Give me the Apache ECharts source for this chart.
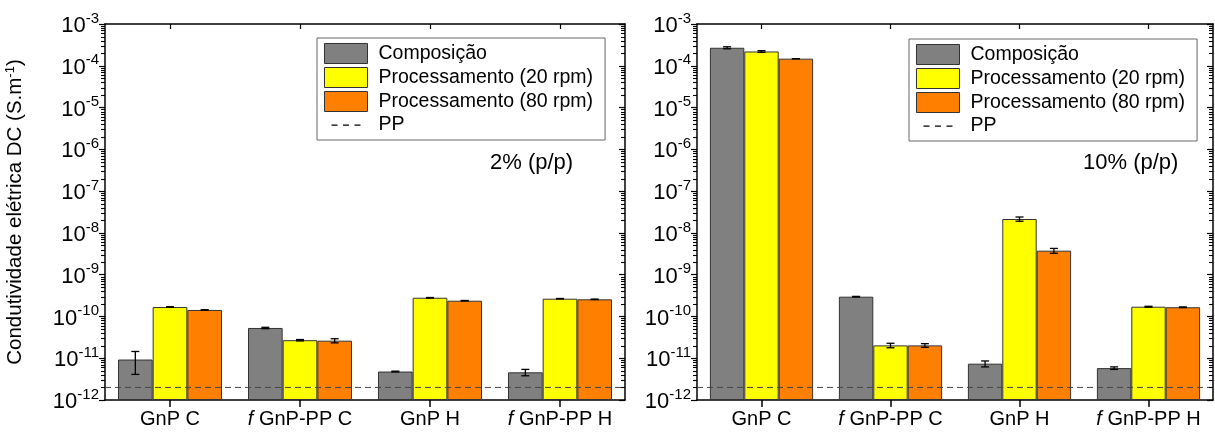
<!DOCTYPE html>
<html><head><meta charset="utf-8">
<script src="https://cdn.jsdelivr.net/npm/echarts@6/dist/echarts.min.js"></script>
<style>html,body{margin:0;padding:0;background:#fff}#c{width:1215px;height:432px}</style>
</head><body><div id="c"></div>
<script>
// ---------- data ----------
const categories = ['GnP C', 'ƒGnP-PP C', 'GnP H', 'ƒGnP-PP H'];
const seriesNames = ['Composição', 'Processamento (20 rpm)', 'Processamento (80 rpm)'];
const ppName = 'PP';
const ppLevel = 2e-12;
const yTickExponents = [-12, -11, -10, -9, -8, -7, -6, -5, -4, -3];
const minorMultipliers = [2, 3, 4, 5, 6, 7, 8, 9];
const panelTitles = ['2% (p/p)', '10% (p/p)'];

// 2% (p/p)
const comp2 = [9.3e-12, 5.3e-11, 4.8e-12, 4.6e-12];
const comp2Err = [5.2e-12, 2e-12, 1e-13, 8e-13];
const p20_2 = [1.68e-10, 2.7e-11, 2.8e-10, 2.66e-10];
const p20_2Err = [3e-12, 1e-12, 4e-12, 3e-12];
const p80_2 = [1.43e-10, 2.63e-11, 2.38e-10, 2.57e-10];
const p80_2Err = [2e-12, 3e-12, 3e-12, 3e-12];
// 10% (p/p)
const comp10 = [2.7e-4, 2.97e-10, 7.4e-12, 5.8e-12];
const comp10Err = [1.5e-5, 5e-12, 1.2e-12, 4e-13];
const p20_10 = [2.2e-4, 2.03e-11, 2.15e-8, 1.71e-10];
const p20_10Err = [1e-5, 2.5e-12, 2.5e-9, 4e-12];
const p80_10 = [1.48e-4, 2.03e-11, 3.75e-9, 1.66e-10];
const p80_10Err = [0, 2e-12, 5e-10, 3e-12];

// ---------- styling ----------
const FONT = 'Liberation Sans, Arial, Helvetica, sans-serif';
const colors = ['#808080', '#FFFF00', '#FF8000'];
const yMin = 1e-12;
const yMax = 1e-3;

const minorTickValues = [];
for (let i = 0; i < yTickExponents.length - 1; i++) {
  for (let j = 0; j < minorMultipliers.length; j++) {
    minorTickValues.push(minorMultipliers[j] * Math.pow(10, yTickExponents[i]));
  }
}

const grids = [
  { left: 105, top: 24, width: 520, height: 376 },
  { left: 697, top: 24, width: 516, height: 376 }
];

function yLabel(v) {
  const e = Math.round(Math.log10(v));
  return '{b|10}{s|' + e + '}';
}
const yRich = {
  b: { fontSize: 22, fontFamily: FONT, color: '#000', verticalAlign: 'bottom' },
  s: { fontSize: 15, fontFamily: FONT, color: '#000', verticalAlign: 'bottom', padding: [0, 0, 11, 0] }
};
function xLabel(v) {
  if (v.charAt(0) === 'ƒ') return '{i|f} ' + v.slice(1);
  return v;
}

const xAxes = [], yAxes = [], series = [];
grids.forEach((g, gi) => {
  xAxes.push({
    type: 'category', gridIndex: gi, data: categories, position: 'bottom',
    axisLine: { lineStyle: { color: '#000', width: 1.5 } },
    axisTick: { show: true, alignWithLabel: true, interval: 0, length: 7, lineStyle: { color: '#000', width: 1.5 } },
    axisLabel: {
      interval: 0, formatter: xLabel, margin: 9, color: '#000', fontSize: 20, fontFamily: FONT,
      rich: { i: { fontStyle: 'italic', fontSize: 20, fontFamily: FONT, color: '#000' } }
    },
    splitLine: { show: false }
  });
  xAxes.push({
    type: 'category', gridIndex: gi, data: categories, position: 'top',
    axisLine: { lineStyle: { color: '#000', width: 1.5 } },
    axisTick: { show: true, alignWithLabel: true, interval: 0, inside: true, length: 5, lineStyle: { color: '#000', width: 1.2 } },
    axisLabel: { show: false }, splitLine: { show: false }
  });
  yAxes.push({
    type: 'log', logBase: 10, gridIndex: gi, min: yMin, max: yMax, interval: 1, startValue: yMin,
    position: 'left',
    name: gi === 0 ? 'Condutividade elétrica DC (S.m{s|-1})' : '',
    nameLocation: 'middle', nameGap: 78,
    nameTextStyle: {
      fontSize: 20.5, fontFamily: FONT, color: '#000',
      rich: { s: { fontSize: 13, fontFamily: FONT, color: '#000', verticalAlign: 'bottom', padding: [0, 0, 10, 0] } }
    },
    axisLine: { show: true, lineStyle: { color: '#000', width: 1.5 } },
    axisTick: { show: true, length: 6, lineStyle: { color: '#000', width: 1.2 } },
    axisLabel: { formatter: yLabel, rich: yRich, margin: 6 },
    splitLine: { show: false }
  });
  yAxes.push({
    type: 'log', logBase: 10, gridIndex: gi, min: yMin, max: yMax, interval: 1, startValue: yMin,
    position: 'right',
    axisLine: { show: true, lineStyle: { color: '#000', width: 1.5 } },
    axisTick: { show: true, inside: true, length: 6, lineStyle: { color: '#000', width: 1.2 } },
    axisLabel: { show: false }, splitLine: { show: false }
  });
});

const panels = [
  { vals: [comp2, p20_2, p80_2], errs: [comp2Err, p20_2Err, p80_2Err] },
  { vals: [comp10, p20_10, p80_10], errs: [comp10Err, p20_10Err, p80_10Err] }
];

function errRender(k) {
  return function (params, api) {
    const cs = params.coordSys;
    const band = cs.width / categories.length;
    const bw = band * 0.8 / 3;
    const i = api.value(0);
    const x = api.coord([i, api.value(1)])[0] + (k - 1) * bw;
    const yl = api.coord([i, api.value(2)])[1];
    const yh = api.coord([i, api.value(3)])[1];
    const cap = 4;
    const st = { stroke: '#000', lineWidth: 1.3 };
    return {
      type: 'group', children: [
        { type: 'line', shape: { x1: x, y1: yl, x2: x, y2: yh }, style: st },
        { type: 'line', shape: { x1: x - cap, y1: yl, x2: x + cap, y2: yl }, style: st },
        { type: 'line', shape: { x1: x - cap, y1: yh, x2: x + cap, y2: yh }, style: st }
      ]
    };
  };
}

function ppRender(params, api) {
  const cs = params.coordSys;
  const y = api.coord([api.value(0), api.value(1)])[1];
  return {
    type: 'line',
    shape: { x1: cs.x, y1: y, x2: cs.x + cs.width, y2: y },
    style: { stroke: '#444', lineWidth: 1, lineDash: [6, 4] }
  };
}

// minor ticks of the log axes, placed through the axis scale
function minorRender(params, api) {
  const cs = params.coordSys;
  const children = [];
  for (let n = 0; n < minorTickValues.length; n++) {
    const y = Math.round(api.coord([0, minorTickValues[n]])[1]) + 0.5;
    children.push({ type: 'line', shape: { x1: cs.x - 4, y1: y, x2: cs.x, y2: y }, style: { stroke: '#000', lineWidth: 1.1 } });
    children.push({ type: 'line', shape: { x1: cs.x + cs.width - 4, y1: y, x2: cs.x + cs.width, y2: y }, style: { stroke: '#000', lineWidth: 1.1 } });
  }
  return { type: 'group', children: children };
}

panels.forEach((p, gi) => {
  const xi = gi * 2, yi = gi * 2;
  p.vals.forEach((vals, k) => {
    series.push({
      type: 'bar', name: seriesNames[k], xAxisIndex: xi, yAxisIndex: yi,
      data: vals, barGap: '0%', barCategoryGap: '20%',
      itemStyle: { color: colors[k], borderColor: '#333', borderWidth: 1 },
      emphasis: { disabled: true }, z: 2
    });
  });
  p.vals.forEach((vals, k) => {
    series.push({
      type: 'custom', name: seriesNames[k] + '-err', xAxisIndex: xi, yAxisIndex: yi,
      data: vals.map((v, i) => [i, v, v - p.errs[k][i], v + p.errs[k][i]]),
      renderItem: errRender(k), silent: true, z: 5
    });
  });
  series.push({
    type: 'custom', name: ppName, xAxisIndex: xi, yAxisIndex: yi,
    data: [[0, ppLevel]], renderItem: ppRender, silent: true, z: 4,
    itemStyle: { color: '#000' }
  });
  series.push({
    type: 'custom', name: 'minorTicks' + gi, xAxisIndex: xi, yAxisIndex: yi,
    data: [[1, 1e-8]], renderItem: minorRender, silent: true, z: 4
  });
});

const dashIcon = 'path://M0,0h0.01v0.01h-0.01z M43,20h0.01v0.01h-0.01z M7,9.4h6v1.3h-6z M18.5,9.4h6v1.3h-6z M30,9.4h6v1.3h-6z';

function legendFor(left, top) {
  return {
    orient: 'vertical', left: left, top: top,
    itemWidth: 43, itemHeight: 20, itemGap: 3,
    padding: [5, 12, 5, 7],
    borderColor: '#666', borderWidth: 1,
    selectedMode: false,
    textStyle: { fontSize: 19.5, fontFamily: FONT, color: '#000', padding: [0, 0, 0, 6] },
    data: seriesNames.map(n => ({ name: n, icon: 'rect', itemStyle: { borderColor: '#333', borderWidth: 1 } }))
      .concat([{ name: ppName, icon: dashIcon, itemStyle: { color: '#000', borderWidth: 0 } }])
  };
}

const option = {
  animation: false,
  backgroundColor: '#fff',
  textStyle: { fontFamily: FONT },
  grid: grids,
  xAxis: xAxes,
  yAxis: yAxes,
  legend: [legendFor(317, 38), legendFor(909, 39)],
  title: [
    { text: panelTitles[0], left: 485, top: 147, padding: 5, textStyle: { fontSize: 22, fontWeight: 'normal', fontFamily: FONT, color: '#000' } },
    { text: panelTitles[1], left: 1078, top: 147, padding: 5, textStyle: { fontSize: 22, fontWeight: 'normal', fontFamily: FONT, color: '#000' } }
  ],
  series: series
};

const chart = echarts.init(document.getElementById('c'), null, { renderer: 'canvas' });
chart.setOption(option);
</script>
</body></html>
